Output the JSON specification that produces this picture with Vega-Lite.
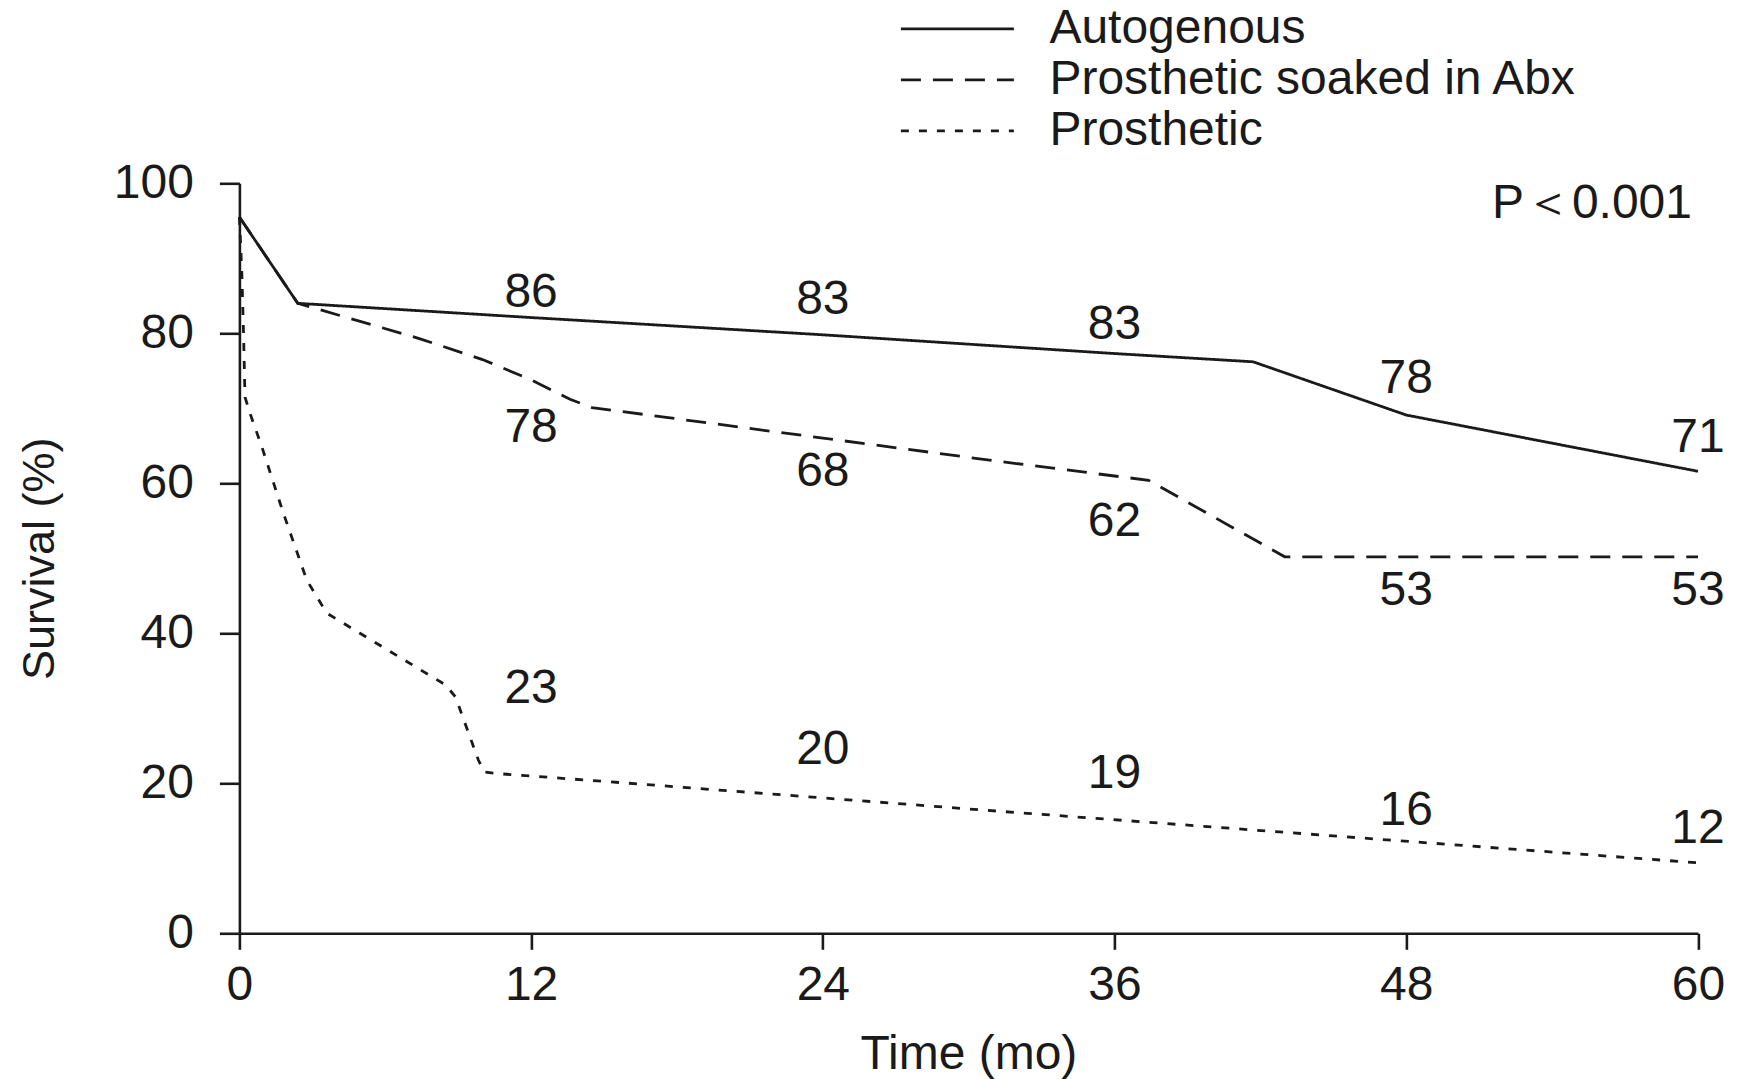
{
  "$schema": "https://vega.github.io/schema/vega-lite/v6.json",
  "autosize": "none",
  "width": 1458.6,
  "height": 750,
  "padding": {"left": 239.4, "top": 183.3, "right": 48, "bottom": 146},
  "background": "white",
  "config": {
    "view": {"stroke": null},
    "font": "Liberation Sans",
    "axis": {"grid": false, "domainColor": "#1a1a1a", "tickColor": "#1a1a1a", "labelColor": "#1a1a1a", "titleColor": "#1a1a1a", "domainWidth": 2.6, "tickWidth": 2.6, "labelFont": "Liberation Sans", "titleFont": "Liberation Sans", "titleFontWeight": "normal"}
  },
  "datasets": {
    "curves": [
      {"group": "Autogenous", "time": 0, "survival": 95.5},
      {"group": "Autogenous", "time": 2.4, "survival": 84.0},
      {"group": "Autogenous", "time": 12, "survival": 82.1},
      {"group": "Autogenous", "time": 24, "survival": 79.8},
      {"group": "Autogenous", "time": 36, "survival": 77.3},
      {"group": "Autogenous", "time": 41.7, "survival": 76.2},
      {"group": "Autogenous", "time": 48, "survival": 69.1},
      {"group": "Autogenous", "time": 60, "survival": 61.6},
      {"group": "Prosthetic soaked in Abx", "time": 0, "survival": 95.5},
      {"group": "Prosthetic soaked in Abx", "time": 2.4, "survival": 84.0},
      {"group": "Prosthetic soaked in Abx", "time": 7.4, "survival": 79.3},
      {"group": "Prosthetic soaked in Abx", "time": 10, "survival": 76.5},
      {"group": "Prosthetic soaked in Abx", "time": 12, "survival": 73.8},
      {"group": "Prosthetic soaked in Abx", "time": 13.6, "survival": 71.2},
      {"group": "Prosthetic soaked in Abx", "time": 14.5, "survival": 70.1},
      {"group": "Prosthetic soaked in Abx", "time": 31.3, "survival": 62.9},
      {"group": "Prosthetic soaked in Abx", "time": 37.4, "survival": 60.4},
      {"group": "Prosthetic soaked in Abx", "time": 43.0, "survival": 50.2},
      {"group": "Prosthetic soaked in Abx", "time": 60, "survival": 50.2},
      {"group": "Prosthetic", "time": 0, "survival": 95.5},
      {"group": "Prosthetic", "time": 0.1, "survival": 88.0},
      {"group": "Prosthetic", "time": 0.17, "survival": 80.0},
      {"group": "Prosthetic", "time": 0.23, "survival": 71.5},
      {"group": "Prosthetic", "time": 0.44, "survival": 69.3},
      {"group": "Prosthetic", "time": 0.92, "survival": 64.9},
      {"group": "Prosthetic", "time": 1.81, "survival": 56.0},
      {"group": "Prosthetic", "time": 2.77, "survival": 47.1},
      {"group": "Prosthetic", "time": 3.59, "survival": 42.7},
      {"group": "Prosthetic", "time": 4.96, "survival": 40.0},
      {"group": "Prosthetic", "time": 8.49, "survival": 33.1},
      {"group": "Prosthetic", "time": 8.89, "survival": 31.5},
      {"group": "Prosthetic", "time": 9.83, "survival": 23.1},
      {"group": "Prosthetic", "time": 10.07, "survival": 21.5},
      {"group": "Prosthetic", "time": 10.6, "survival": 21.3},
      {"group": "Prosthetic", "time": 15.24, "survival": 20.2},
      {"group": "Prosthetic", "time": 31.15, "survival": 16.3},
      {"group": "Prosthetic", "time": 60, "survival": 9.4}
    ],
    "labels": [
      {"group": "Autogenous", "time": 12, "value": "86", "pos": 85.4},
      {"group": "Autogenous", "time": 24, "value": "83", "pos": 84.4},
      {"group": "Autogenous", "time": 36, "value": "83", "pos": 81.1},
      {"group": "Autogenous", "time": 48, "value": "78", "pos": 73.9},
      {"group": "Autogenous", "time": 60, "value": "71", "pos": 66.1},
      {"group": "Prosthetic soaked in Abx", "time": 12, "value": "78", "pos": 67.4},
      {"group": "Prosthetic soaked in Abx", "time": 24, "value": "68", "pos": 61.5},
      {"group": "Prosthetic soaked in Abx", "time": 36, "value": "62", "pos": 54.8},
      {"group": "Prosthetic soaked in Abx", "time": 48, "value": "53", "pos": 45.6},
      {"group": "Prosthetic soaked in Abx", "time": 60, "value": "53", "pos": 45.6},
      {"group": "Prosthetic", "time": 12, "value": "23", "pos": 32.6},
      {"group": "Prosthetic", "time": 24, "value": "20", "pos": 24.4},
      {"group": "Prosthetic", "time": 36, "value": "19", "pos": 21.2},
      {"group": "Prosthetic", "time": 48, "value": "16", "pos": 16.3},
      {"group": "Prosthetic", "time": 60, "value": "12", "pos": 13.9}
    ],
    "note": [
      {"time": 60, "pos": 97.3, "text": "P＜0.001"}
    ]
  },
  "layer": [
    {
      "data": {"name": "curves"},
      "mark": {"type": "line", "color": "#1a1a1a", "strokeWidth": 2.8, "interpolate": "linear"},
      "encoding": {
        "x": {
          "field": "time", "type": "quantitative",
          "scale": {"domain": [0, 60], "nice": false, "zero": false},
          "axis": {
            "values": [0, 12, 24, 36, 48, 60],
            "title": "Time (mo)",
            "labelFontSize": 48,
            "labelPadding": 12,
            "tickSize": 16,
            "labelFlush": false,
            "labelOverlap": false,
            "titleFontSize": 48,
            "titleX": 729,
            "titleY": 135,
            "titleAlign": "center",
            "titleBaseline": "alphabetic"
          }
        },
        "y": {
          "field": "survival", "type": "quantitative",
          "scale": {"domain": [0, 100], "nice": false},
          "axis": {
            "values": [0, 20, 40, 60, 80, 100],
            "title": "Survival (%)",
            "labelFontSize": 48,
            "labelPadding": 26,
            "tickSize": 20,
            "labelFlush": false,
            "labelOverlap": false,
            "titleFontSize": 45,
            "titleAngle": 270,
            "titleX": -186,
            "titleY": 375,
            "titleAlign": "center",
            "titleBaseline": "alphabetic"
          }
        },
        "strokeDash": {
          "field": "group", "type": "nominal",
          "scale": {
            "domain": ["Autogenous", "Prosthetic soaked in Abx", "Prosthetic"],
            "range": [[1, 0], [20, 12], [8, 10]]
          },
          "legend": {
            "orient": "none",
            "legendX": 660,
            "legendY": -180,
            "title": null,
            "symbolType": "stroke",
            "symbolSize": 12769,
            "symbolStrokeWidth": 2.8,
            "symbolStrokeColor": "#1a1a1a",
            "labelFontSize": 48,
            "labelFont": "Liberation Sans",
            "labelColor": "#1a1a1a",
            "labelLimit": 1000,
            "labelOffset": 34,
            "clipHeight": 51,
            "rowPadding": 0,
            "padding": 0
          }
        }
      }
    },
    {
      "data": {"name": "labels"},
      "mark": {"type": "text", "fontSize": 48, "font": "Liberation Sans", "color": "#1a1a1a", "align": "center", "baseline": "middle"},
      "encoding": {
        "x": {"field": "time", "type": "quantitative"},
        "y": {"field": "pos", "type": "quantitative"},
        "text": {"field": "value", "type": "nominal"}
      }
    },
    {
      "data": {"name": "note"},
      "mark": {"type": "text", "fontSize": 48, "font": "Liberation Sans", "color": "#1a1a1a", "align": "right", "baseline": "middle", "dx": -6},
      "encoding": {
        "x": {"field": "time", "type": "quantitative"},
        "y": {"field": "pos", "type": "quantitative"},
        "text": {"field": "text", "type": "nominal"}
      }
    }
  ]
}
